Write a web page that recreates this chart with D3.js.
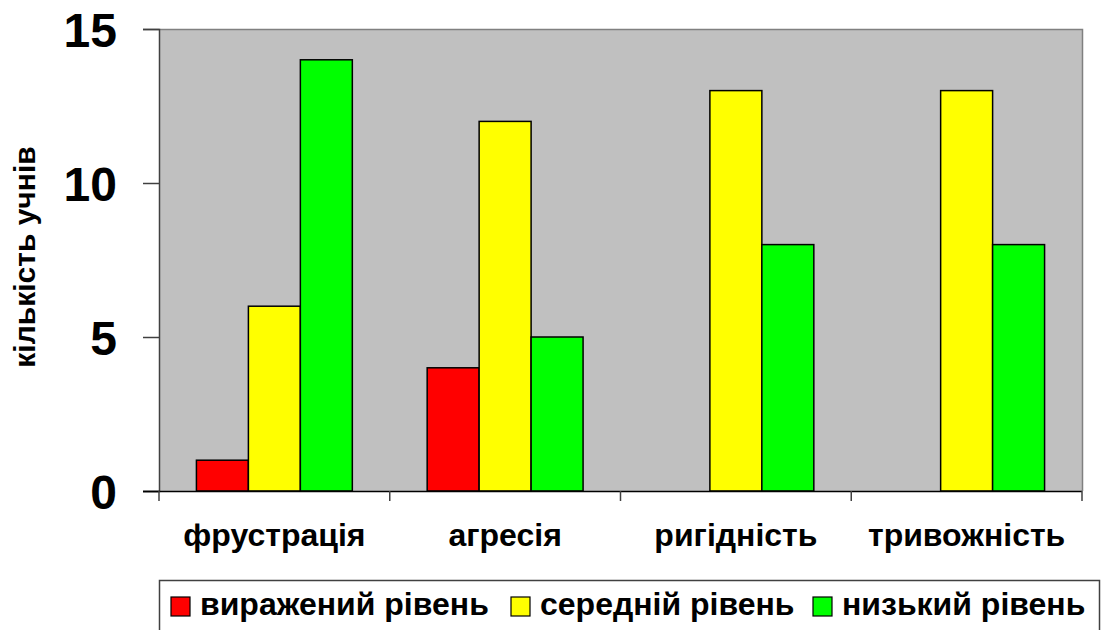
<!DOCTYPE html>
<html>
<head>
<meta charset="utf-8">
<script src="https://cdn.jsdelivr.net/npm/d3@7"></script>
<style>
  html, body { margin: 0; padding: 0; background: #ffffff; }
  svg { display: block; }
  text { font-family: "Liberation Sans", Arial, sans-serif; font-weight: bold; fill: #000; }
</style>
</head>
<body>
<svg id="chart" width="1101" height="630"></svg>
<script>
// Categories (psychological states) and the three level series
const categories = ["фрустрація", "агресія", "ригідність", "тривожність"];
const seriesNames = ["виражений рівень", "середній рівень", "низький рівень"];
const seriesColors = ["#ff0000", "#ffff00", "#00ff00"];
const expressedLevel = [1, 4, 0, 0];
const mediumLevel = [6, 12, 13, 13];
const lowLevel = [14, 5, 8, 8];
const yTicks = [0, 5, 10, 15];
const yTitle = "кількість учнів";

const seriesValues = [expressedLevel, mediumLevel, lowLevel];

const svg = d3.select("#chart");
const plot = { left: 159, top: 29, right: 1082, bottom: 491 };

const x = d3.scaleBand()
  .domain(categories)
  .range([plot.left, plot.right])
  .paddingInner(0).paddingOuter(0);

const xInner = d3.scaleBand()
  .domain(seriesNames)
  .range([0, x.bandwidth()])
  .paddingOuter(0.72)
  .paddingInner(0);

const y = d3.scaleLinear().domain([0, 15]).range([plot.bottom, plot.top]);

// Plot background
svg.append("rect")
  .attr("x", plot.left).attr("y", plot.top)
  .attr("width", plot.right - plot.left).attr("height", plot.bottom - plot.top)
  .attr("fill", "#c0c0c0");

// Top and right border of the plot area
svg.append("path")
  .attr("d", `M${plot.left},${plot.top + 0.5}H${plot.right + 0.5}V${plot.bottom}`)
  .attr("fill", "none").attr("stroke", "#808080").attr("stroke-width", 1.5);

// Bars
const rows = categories.map((c, i) => ({ cat: c, vals: seriesValues.map((s, k) => ({ name: seriesNames[k], color: seriesColors[k], v: s[i] })) }));

const groups = svg.append("g").selectAll("g")
  .data(rows).join("g")
  .attr("transform", d => `translate(${x(d.cat)},0)`);

groups.selectAll("rect")
  .data(d => d.vals.filter(v => v.v > 0))
  .join("rect")
  .attr("x", d => xInner(d.name))
  .attr("y", d => y(d.v))
  .attr("width", xInner.bandwidth())
  .attr("height", d => y(0) - y(d.v))
  .attr("fill", d => d.color)
  .attr("stroke", "#000")
  .attr("stroke-width", 1.5);

// Y axis
const yAxis = d3.axisLeft(y).tickValues(yTicks).tickSize(16).tickPadding(26);
const gy = svg.append("g").attr("transform", `translate(${plot.left},0)`).call(yAxis);
gy.select(".domain").attr("stroke", "#404040").attr("stroke-width", 1.5);
gy.selectAll(".tick line").attr("stroke", "#404040").attr("stroke-width", 1.5);
gy.selectAll(".tick text")
  .style("font-size", "48px")
  .attr("dy", "0.36em")
  .attr("font-family", null);

// X axis
const xAxis = d3.axisBottom(x).tickSize(0).tickPadding(0);
const gx = svg.append("g").attr("transform", `translate(0,${plot.bottom})`).call(xAxis);
gx.select(".domain").attr("stroke", "#000").attr("stroke-width", 1.5)
  .attr("d", `M${plot.left - 16},0.5H${plot.right}`);
gx.selectAll(".tick text")
  .style("font-size", "32px")
  .attr("y", 55)
  .attr("dy", 0)
  .attr("font-family", null);
// Category separator ticks
gx.selectAll(".sep")
  .data(categories.concat(["end"]))
  .join("line")
  .attr("class", "sep")
  .attr("x1", (d, i) => i < categories.length ? x(d) : plot.right)
  .attr("x2", (d, i) => i < categories.length ? x(d) : plot.right)
  .attr("y1", 0).attr("y2", 10)
  .attr("stroke", "#404040").attr("stroke-width", 1.5);

// Y axis title
svg.append("text")
  .attr("transform", `translate(35,257) rotate(-90)`)
  .attr("text-anchor", "middle")
  .style("font-size", "30px")
  .text(yTitle);

// Legend
const legend = svg.append("g");
legend.append("rect")
  .attr("x", 159.5).attr("y", 580.5)
  .attr("width", 940).attr("height", 60)
  .attr("fill", "#fff").attr("stroke", "#404040").attr("stroke-width", 1.5);

const legendX = [171, 511, 813];
const items = legend.selectAll("g.item")
  .data(seriesNames)
  .join("g").attr("class", "item")
  .attr("transform", (d, i) => `translate(${legendX[i]},597)`);
items.append("rect")
  .attr("width", 19).attr("height", 19)
  .attr("fill", (d, i) => seriesColors[i])
  .attr("stroke", "#000").attr("stroke-width", 1.2);
items.append("text")
  .attr("x", 29).attr("y", 18)
  .style("font-size", "32px")
  .text(d => d);
</script>
</body>
</html>
